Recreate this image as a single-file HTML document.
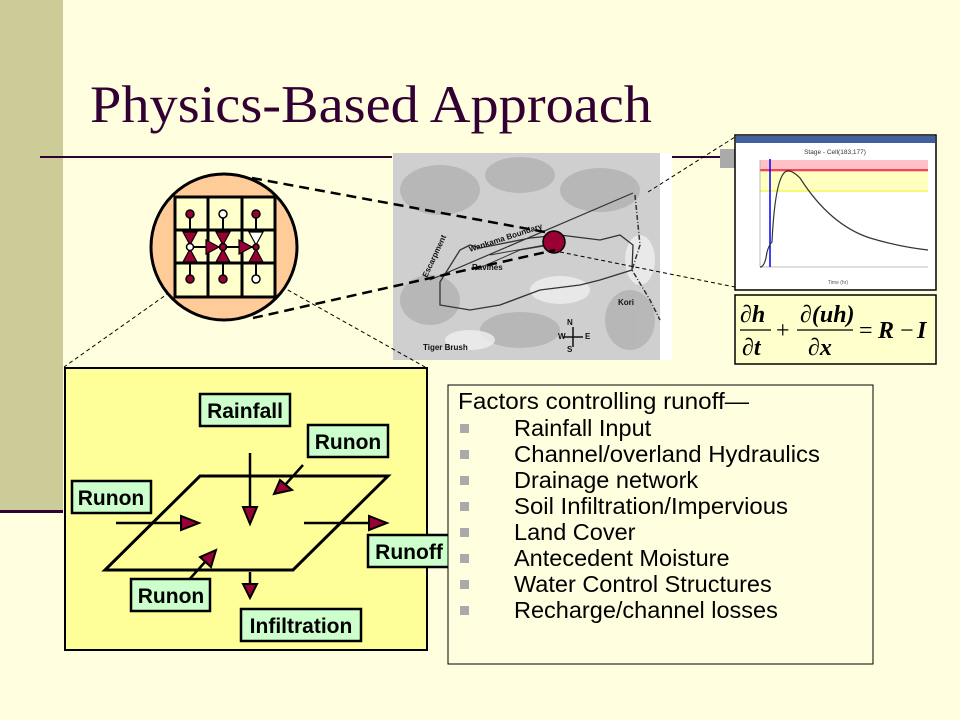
<!DOCTYPE html>
<html><head><meta charset="utf-8"><style>
html,body{margin:0;padding:0;}
body{width:960px;height:720px;overflow:hidden;background:#ffffe0;}
svg{display:block;}
.lab{font-family:"Liberation Sans",sans-serif;font-weight:bold;font-size:21px;fill:#000;}
.li{font-family:"Liberation Sans",sans-serif;font-size:23.5px;fill:#000;}
</style></head><body>
<svg width="960" height="720" viewBox="0 0 960 720" xmlns="http://www.w3.org/2000/svg">
<rect x="0" y="0" width="960" height="720" fill="#ffffe0"/>
<rect x="0" y="0" width="63" height="511" fill="#cccc99"/>
<rect x="0" y="510" width="63" height="3" fill="#330033"/>
<text x="90" y="122" font-family="Liberation Serif, serif" font-size="50" fill="#330033" textLength="562" lengthAdjust="spacingAndGlyphs" style="font-size:53px">Physics-Based Approach</text>
<rect x="40" y="156" width="352" height="2" fill="#330033"/>
<rect x="672" y="156" width="63" height="2" fill="#330033"/>
<rect x="720" y="149" width="15" height="19" fill="#aaaaaa"/>

<!-- map -->
<rect x="393" y="153" width="279" height="207" fill="#ffffff"/>
<rect x="393" y="153" width="267" height="207" fill="#cfcfcf"/>
<g fill="#a8a8a8" opacity="0.6">
<ellipse cx="440" cy="190" rx="40" ry="25"/><ellipse cx="520" cy="175" rx="35" ry="18"/>
<ellipse cx="600" cy="190" rx="40" ry="22"/><ellipse cx="430" cy="300" rx="30" ry="25"/>
<ellipse cx="520" cy="330" rx="40" ry="18"/><ellipse cx="630" cy="320" rx="25" ry="30"/>
</g>
<g fill="#efefef" opacity="0.8">
<ellipse cx="560" cy="290" rx="30" ry="14"/><ellipse cx="470" cy="340" rx="25" ry="10"/><ellipse cx="640" cy="260" rx="15" ry="25"/>
</g>
<path d="M440,282 L460,250 L470,245 L480,248 L530,238 L560,235 L600,240 L620,235 L633,245 L632,270 L600,280 L580,285 L540,290 L500,305 L470,310 L440,305 Z" fill="none" stroke="#333" stroke-width="1.3"/>
<path d="M430,280 L633,193" stroke="#333" stroke-width="1.2"/>
<path d="M475,270 L520,250 L550,245 M490,255 L545,245" stroke="#333" stroke-width="1" fill="none"/>
<path d="M635,195 L640,245 L632,270 L650,300 L660,320" stroke="#333" stroke-width="1.5" stroke-dasharray="5,2,1,2" fill="none"/>
<g font-family="Liberation Sans,sans-serif" font-size="8" font-weight="bold" fill="#111">
<text x="470" y="252" transform="rotate(-18 470 252)">Wankama Boundary</text>
<text x="472" y="270">Ravines</text>
<text x="618" y="305">Kori</text>
<text x="423" y="350">Tiger Brush</text>
<text x="427" y="278" transform="rotate(-65 427 278)">Escarpment</text>
<text x="567" y="325">N</text><text x="567" y="352">S</text><text x="558" y="339">W</text><text x="585" y="339">E</text>
</g>
<path d="M573,327 L573,347 M563,337 L583,337" stroke="#111" stroke-width="1.5"/>
<circle cx="554" cy="242" r="11" fill="#990033" stroke="#000" stroke-width="1.5"/>

<!-- dashed connectors -->
<path d="M252,178 L545,232" stroke="#000" stroke-width="2.5" stroke-dasharray="10,6" fill="none"/>
<path d="M253,318 L555,250" stroke="#000" stroke-width="2.5" stroke-dasharray="10,6" fill="none"/>
<path d="M204,268 L64,367" stroke="#000" stroke-width="1" stroke-dasharray="4,3"/>
<path d="M245,266 L425,367" stroke="#000" stroke-width="1" stroke-dasharray="4,3"/>
<path d="M648,192 L735,137" stroke="#000" stroke-width="1" stroke-dasharray="4,3"/>
<path d="M560,252 L735,287" stroke="#000" stroke-width="1" stroke-dasharray="4,3"/>

<!-- circle -->
<circle cx="224" cy="247" r="73" fill="#ffcc99" stroke="#000" stroke-width="3"/>
<rect x="175" y="197" width="100" height="100" fill="#ffffcc" stroke="#000" stroke-width="3"/>
<path d="M208,197 V297 M242,197 V297 M175,230 H275 M175,263 H275" stroke="#000" stroke-width="3"/>
<path d="M190,214 V279 M223,214 V279 M256,214 V279 M190,247 H256" stroke="#000" stroke-width="2"/>
<g stroke="#000" stroke-width="1.2" fill="#990033">
<polygon points="183,232 197,232 190,245"/><polygon points="183,262 197,262 190,249"/>
<polygon points="216,232 230,232 223,245"/><polygon points="216,262 230,262 223,249"/>
<polygon points="249,232 263,232 256,245" fill="#fff"/><polygon points="249,262 263,262 256,249"/>
<polygon points="206,240 206,254 219,247"/><polygon points="239,240 239,254 252,247"/>
</g>
<g stroke="#000" stroke-width="1.5">
<circle cx="190" cy="214" r="4" fill="#990033"/><circle cx="223" cy="214" r="4" fill="#fff"/><circle cx="256" cy="214" r="4" fill="#990033"/>
<circle cx="190" cy="247" r="3.5" fill="#fff"/><circle cx="223" cy="247" r="3.5" fill="#990033"/><circle cx="256" cy="247" r="3" fill="#990033"/>
<circle cx="190" cy="279" r="4" fill="#990033"/><circle cx="223" cy="279" r="4" fill="#990033"/><circle cx="256" cy="279" r="4" fill="#fff"/>
</g>

<!-- chart -->
<rect x="735" y="135" width="201" height="155" fill="#fff" stroke="#000" stroke-width="1.5"/>
<rect x="736" y="136" width="199" height="7" fill="#4060a0"/>
<text x="835" y="154" font-family="Liberation Sans,sans-serif" font-size="6.5" text-anchor="middle" fill="#333">Stage - Cell(183,177)</text>
<rect x="760" y="160" width="168" height="12" fill="#ffc0c8"/>
<rect x="760" y="172" width="168" height="20" fill="#ffffc0"/>
<line x1="760" y1="170" x2="928" y2="170" stroke="#e00" stroke-width="1.3"/>
<line x1="760" y1="191" x2="928" y2="191" stroke="#ee0" stroke-width="0.8"/>
<line x1="760" y1="160" x2="760" y2="267" stroke="#aaa" stroke-width="0.8"/>
<line x1="760" y1="267" x2="928" y2="267" stroke="#aaa" stroke-width="0.8"/>
<line x1="770" y1="159" x2="770" y2="267" stroke="#00f" stroke-width="1.5"/>
<path d="M760,267 Q765,267 767,252 Q769,245 772,242 Q775,180 785,172 Q790,168 800,178 Q830,225 870,238 Q900,247 928,250" fill="none" stroke="#333" stroke-width="1.2"/>
<text x="838" y="284" font-family="Liberation Sans,sans-serif" font-size="5" text-anchor="middle" fill="#555">Time (hr)</text>

<!-- equation -->
<rect x="735" y="295" width="201" height="69" fill="#ffffcc" stroke="#000" stroke-width="1.5"/>
<g font-family="Liberation Serif,serif" font-style="italic" font-weight="bold" font-size="24" fill="#000">
<text x="740" y="322">∂h</text><text x="742" y="355">∂t</text>
<text x="800" y="322">∂(uh)</text><text x="808" y="355">∂x</text>
<text x="878" y="338">R</text><text x="917" y="338">I</text>
</g>
<g font-family="Liberation Serif,serif" font-size="24" fill="#000"><text x="776" y="338">+</text><text x="859" y="338">=</text><text x="900" y="338">−</text></g>
<line x1="740" y1="330" x2="771" y2="330" stroke="#000" stroke-width="1.3"/>
<line x1="797" y1="330" x2="853" y2="330" stroke="#000" stroke-width="1.3"/>

<!-- yellow diagram -->
<rect x="65" y="368" width="362" height="282" fill="#ffff99" stroke="#000" stroke-width="2"/>
<polygon points="200,476 388,476 293,570 105,570" fill="none" stroke="#000" stroke-width="3"/>
<g stroke="#000" stroke-width="2.5">
<line x1="250" y1="453" x2="250" y2="508"/><line x1="303" y1="465" x2="285" y2="485"/>
<line x1="116" y1="523" x2="182" y2="523"/><line x1="304" y1="523" x2="370" y2="523"/>
<line x1="187" y1="582" x2="205" y2="562"/><line x1="250" y1="572" x2="250" y2="585"/>
</g>
<g fill="#990033" stroke="#000" stroke-width="2">
<polygon points="243,507 257,507 250,524"/>
<polygon points="280,480 292,490 274,494"/>
<polygon points="181,516 181,530 199,523"/>
<polygon points="369,516 369,530 387,523"/>
<polygon points="200,557 211,567 216,550"/>
<polygon points="243,584 257,584 250,598"/>
</g>
<g fill="#ccffcc" stroke="#000" stroke-width="2.5">
<rect x="200" y="394" width="90" height="32"/>
<rect x="308" y="425" width="80" height="32"/>
<rect x="72" y="481" width="79" height="32"/>
<rect x="368" y="535" width="81" height="32"/>
<rect x="131" y="579" width="79" height="32"/>
<rect x="241" y="609" width="120" height="32"/>
</g>
<text class="lab" x="245" y="418" text-anchor="middle">Rainfall</text>
<text class="lab" x="348" y="449" text-anchor="middle">Runon</text>
<text class="lab" x="111" y="505" text-anchor="middle">Runon</text>
<text class="lab" x="409" y="559" text-anchor="middle">Runoff</text>
<text class="lab" x="171" y="603" text-anchor="middle">Runon</text>
<text class="lab" x="301" y="633" text-anchor="middle">Infiltration</text>

<!-- factors -->
<rect x="448" y="385" width="425" height="279" fill="#ffffe0" stroke="#000" stroke-width="1"/>
<text class="li" x="458" y="409" textLength="291" lengthAdjust="spacingAndGlyphs">Factors controlling runoff—</text>
<g fill="#aaaaaa">
<rect x="460" y="424" width="9" height="9"/><rect x="460" y="450" width="9" height="9"/><rect x="460" y="476" width="9" height="9"/><rect x="460" y="502" width="9" height="9"/>
<rect x="460" y="528" width="9" height="9"/><rect x="460" y="554" width="9" height="9"/><rect x="460" y="580" width="9" height="9"/><rect x="460" y="606" width="9" height="9"/>
</g>
<text class="li" x="514" y="436">Rainfall Input</text>
<text class="li" x="514" y="462" textLength="306" lengthAdjust="spacingAndGlyphs">Channel/overland Hydraulics</text>
<text class="li" x="514" y="488">Drainage network</text>
<text class="li" x="514" y="514" textLength="274" lengthAdjust="spacingAndGlyphs">Soil Infiltration/Impervious</text>
<text class="li" x="514" y="540">Land Cover</text>
<text class="li" x="514" y="566">Antecedent Moisture</text>
<text class="li" x="514" y="592">Water Control Structures</text>
<text class="li" x="514" y="618">Recharge/channel losses</text>
</svg>
</body></html>
